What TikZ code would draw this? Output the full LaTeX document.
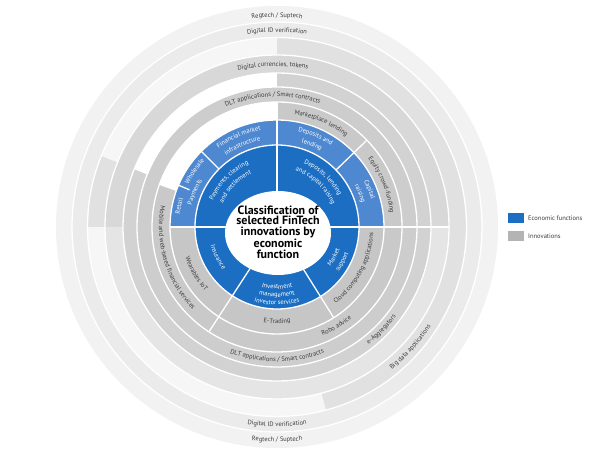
\documentclass[tikz,border=0pt]{standalone}
\usepackage{fontspec}
\setmainfont{PT Sans}
\usetikzlibrary{decorations.text}
\definecolor{dblue}{HTML}{1B6EC2}
\definecolor{lblue}{HTML}{4E88D0}
\definecolor{ga}{HTML}{C6C6C6}
\definecolor{gb}{HTML}{C9C9C9}
\definecolor{gc}{HTML}{CDCDCD}
\definecolor{gd}{HTML}{D2D2D2}
\definecolor{geU}{HTML}{D8D8D8}
\definecolor{geL}{HTML}{E5E5E5}
\definecolor{gf}{HTML}{E1E1E1}
\definecolor{gfe}{HTML}{F6F6F6}
\definecolor{gg}{HTML}{EBEBEB}
\definecolor{gh}{HTML}{F2F2F2}
\definecolor{labgray}{HTML}{3C3C3C}
\definecolor{leggray}{HTML}{B4B4B4}
\newcommand\lbl{\fontsize{6.5}{7}\selectfont}
\newcommand\gt{\lbl\color{labgray}}
\newcommand\wt{\lbl\color{white}}
\newcommand\ttl{\fontsize{12}{10.6}\selectfont\bfseries}
\newcommand\annsec[5]{\fill[#1] (#2:#4) arc[start angle=#2, end angle=#3, radius=#4] -- (#3:#5) arc[start angle=#3, end angle=#2, radius=#5] -- cycle;}
\newcommand\ulab[4]{\path[decorate,decoration={text along path,text={#1},text align=center}] ({#2+#4}:#3) arc[start angle={#2+#4}, end angle={#2-#4}, radius=#3];}
\newcommand\llab[4]{\path[decorate,decoration={text along path,text={#1},text align=center}] ({#2-#4}:#3) arc[start angle={#2-#4}, end angle={#2+#4}, radius=#3];}
\tikzset{sep/.style={draw=white, line width=1.3pt}}
\begin{document}
\begin{tikzpicture}[x=1pt,y=1pt]
\useasboundingbox (0,0) rectangle (600,463);
\fill[white] (0,0) rectangle (600,463);
\begin{scope}[shift={(277,236)}]
% ring fills
\fill[gh] (0,0) circle[radius=221];
\fill[gg] (0,0) circle[radius=205];
\fill[gfe] (0,0) circle[radius=189.5];
\annsec{gf}{0}{90}{172}{189.5}
\annsec{gf}{158}{180}{172}{189.5}
\annsec{gf}{285}{360}{172}{189.5}
\annsec{geU}{0}{180}{154}{172}
\annsec{geL}{180}{360}{154}{172}
\fill[white] (0,0) circle[radius=154];
\annsec{gd}{158}{450}{140}{154}
\fill[gc] (0,0) circle[radius=140];
\fill[white] (0,0) circle[radius=125];
\annsec{gb}{160}{450}{107}{125}
\annsec{lblue}{0}{180}{82}{107}
\annsec{ga}{180}{360}{82}{107}
\fill[dblue] (0,0) circle[radius=82];
% ring separators
\foreach \r in {82,107,125,140,154,172,189.5,205}
  \draw[sep] (0,0) circle[radius=\r];
% radial separators
\draw[sep] (0:0) -- (0:172);
\draw[sep] (180:0) -- (180:107);
\draw[sep] (90:0) -- (90:125);
\draw[sep] (44:82) -- (44:125);
\draw[sep] (135:82) -- (135:107);
\draw[sep] (157:95) -- (157:107);
\draw[sep] (160:107) -- (160:125);
\draw[sep] (237:0) -- (237:125);
\draw[sep] (302:0) -- (302:107);
% centre
\fill[white] (1,-6) ellipse[x radius=53, y radius=42];
\node[align=center, font=\ttl, inner sep=0pt, text=black] (title) at (1,-5)
  {Classification of\\selected FinTech\\innovations by\\economic\\function};
% innovation labels
\ulab{|\gt|Regtech / Suptech}{90}{210}{40}
\llab{|\gt|Regtech / Suptech}{270}{215}{40}
\ulab{|\gt|Digital ID verification}{90}{195}{40}
\llab{|\gt|Digital ID verification}{270}{199.5}{40}
\ulab{|\gt|Digital currencies, tokens}{91.5}{161}{40}
\llab{|\gt|Big data applications}{318}{183}{30}
\llab{|\gt|e-Aggregators}{315.5}{149}{30}
\ulab{|\gt|DLT applications / Smart contracts}{92}{130.5}{45}
\llab{|\gt|DLT applications / Smart contracts}{270}{134.5}{45}
\ulab{|\gt|Marketplace lending}{67}{114}{30}
\ulab{|\gt|Equity crowd-funding}{22}{114}{30}
\llab{|\gt|Mobile and web-based financial services}{197}{118}{45}
\llab{|\gt|Robo advice}{301}{118}{30}
\llab{|\gt|Wearables IoT}{210}{96.5}{30}
\llab{|\gt|E-Trading}{270}{96.5}{30}
\llab{|\gt|Cloud computing applications}{332}{96.5}{40}
% light blue labels
\ulab{|\wt|Financial market}{113}{98}{30}
\ulab{|\wt|infrastructure}{113}{88}{30}
\ulab{|\wt|Deposits and}{67}{98}{30}
\ulab{|\wt|lending}{67}{88}{30}
\ulab{|\wt|Capital}{22}{98}{20}
\ulab{|\wt|raising}{22}{88}{20}
\ulab{|\wt|Wholesale}{146}{98}{16}
\ulab{|\wt|Retail}{168}{98}{12}
\ulab{|\wt|Payments}{157}{88}{20}
% dark blue labels
\ulab{|\wt|Payments, clearing}{136}{69}{40}
\ulab{|\wt|and settlement}{136}{59}{40}
\ulab{|\wt|Deposits, lending}{47}{69}{40}
\ulab{|\wt|and capital raising}{47}{59}{45}
\llab{|\wt|Insurance}{207}{69}{30}
\llab{|\wt|Investment}{270}{62}{40}
\llab{|\wt|management}{270}{70}{40}
\llab{|\wt|investor services}{270}{78}{40}
\llab{|\wt|Market}{332}{66.5}{25}
\llab{|\wt|support}{332}{76}{25}
\end{scope}
% legend
\fill[dblue] (508,240) rectangle (524,250);
\node[anchor=west, font=\lbl, text=labgray, inner sep=0pt] (econ) at (528,245) {Economic functions};
\fill[leggray] (508,222) rectangle (524,232);
\node[anchor=west, font=\lbl, text=labgray, inner sep=0pt] (innov) at (528,227) {Innovations};
\end{tikzpicture}
\end{document}
